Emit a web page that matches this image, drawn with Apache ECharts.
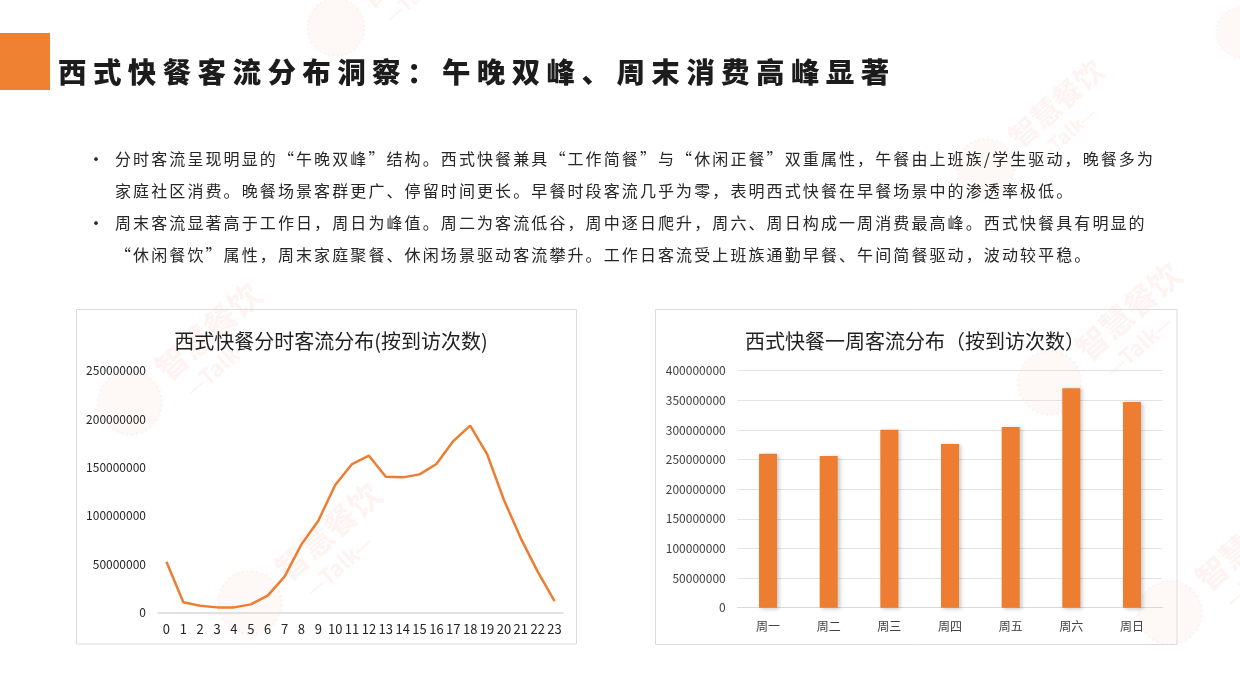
<!DOCTYPE html>
<html>
<head>
<meta charset="utf-8">
<script src="https://cdn.jsdelivr.net/npm/echarts@6/dist/echarts.min.js"></script>
<style>
  html, body { margin: 0; padding: 0; background: #fff; }
  #wrap { position: relative; width: 1240px; height: 697px; overflow: hidden; background: #fff; }
  #chart { position: absolute; left: 0; top: 0; width: 1240px; height: 697px; }
  .txt { position: absolute; font-family: "Noto Sans CJK SC", "Noto Sans", sans-serif; color: #262626; white-space: nowrap; }
  #title { left: 58px; top: 50px; font-size: 28.5px; line-height: 42px; font-weight: 900; letter-spacing: 6.4px; color: #1c1c1c; }
  .line { font-size: 16px; line-height: 32px; letter-spacing: 2.1px; left: 115px; }
  .dot { font-size: 18px; line-height: 32px; left: 87px; }
</style>
</head>
<body>
<div id="wrap">
  <div id="chart"></div>
  <div id="title" class="txt">西式快餐客流分布洞察：午晚双峰、周末消费高峰显著</div>
  <div class="txt dot" style="top:142px">•</div>
  <div class="txt line" style="top:142px">分时客流呈现明显的“午晚双峰”结构。西式快餐兼具“工作简餐”与“休闲正餐”双重属性，午餐由上班族/学生驱动，晚餐多为</div>
  <div class="txt line" style="top:174px">家庭社区消费。晚餐场景客群更广、停留时间更长。早餐时段客流几乎为零，表明西式快餐在早餐场景中的渗透率极低。</div>
  <div class="txt dot" style="top:206px">•</div>
  <div class="txt line" style="top:206px">周末客流显著高于工作日，周日为峰值。周二为客流低谷，周中逐日爬升，周六、周日构成一周消费最高峰。西式快餐具有明显的</div>
  <div class="txt line" style="top:238px">“休闲餐饮”属性，周末家庭聚餐、休闲场景驱动客流攀升。工作日客流受上班族通勤早餐、午间简餐驱动，波动较平稳。</div>
</div>
<script>
// ---- data ----
const hourCategories = ['0','1','2','3','4','5','6','7','8','9','10','11','12','13','14','15','16','17','18','19','20','21','22','23'];
const hourlyVisits = [52700000, 10700000, 7200000, 5500000, 5500000, 8600000, 17600000, 37200000, 70600000, 95000000, 131900000, 153600000, 162200000, 140500000, 139800000, 142900000, 153600000, 177300000, 193200000, 163900000, 116400000, 76800000, 42400000, 12000000];
const weekCategories = ['周一','周二','周三','周四','周五','周六','周日'];
const weeklyVisits = [260000000, 256000000, 300400000, 276200000, 305000000, 370200000, 347100000];
const hourChartTitle = '西式快餐分时客流分布(按到访次数)';
const weekChartTitle = '西式快餐一周客流分布（按到访次数）';

const ORANGE = '#ED7D31';
const FONT = '"Noto Sans CJK SC", "Noto Sans", sans-serif';
const chart = echarts.init(document.getElementById('chart'), null, { renderer: 'canvas' });

function stamp(x, y, s) {
  const c = 'rgba(232,96,64,0.07)';
  return {
    type: 'group', x: x, y: y, rotation: 0.72, scaleX: s, scaleY: s, silent: true, z: 100,
    children: [
      { type: 'circle', shape: { cx: -80, cy: 0, r: 32 }, style: { fill: 'rgba(232,96,64,0.045)', stroke: 'rgba(232,96,64,0.05)', lineWidth: 3, lineDash: [2, 3] } },
      { type: 'text', x: -38, y: -18, style: { text: '智慧餐饮', font: 'bold 32px ' + FONT, fill: c } },
      { type: 'text', x: -30, y: 20, style: { text: '—Talk—', font: 'bold 22px ' + FONT, fill: c } }
    ]
  };
}

const plainNum = v => String(v);

const option = {
  animation: false,
  backgroundColor: 'transparent',
  textStyle: { fontFamily: FONT },
  title: [
    { text: hourChartTitle, left: 326, top: 326, textAlign: 'center',
      textStyle: { fontSize: 20, fontWeight: 'normal', color: '#1f1f1f', fontFamily: FONT } },
    { text: weekChartTitle, left: 910, top: 326, textAlign: 'center',
      textStyle: { fontSize: 20, fontWeight: 'normal', color: '#1f1f1f', fontFamily: FONT } }
  ],
  graphic: [
    { type: 'rect', shape: { x: 0, y: 33, width: 50, height: 57 }, style: { fill: '#EE8232' }, z: 1 },
    { type: 'rect', shape: { x: 76.5, y: 309.5, width: 500, height: 334.5 }, style: { fill: 'none', stroke: '#dcdcdc', lineWidth: 1 }, z: 1 },
    { type: 'rect', shape: { x: 655.5, y: 309.5, width: 521.5, height: 335 }, style: { fill: 'none', stroke: '#dcdcdc', lineWidth: 1 }, z: 1 },
    stamp(390, -20, 0.9),
    stamp(190, 350, 1.0),
    stamp(310, 550, 1.0),
    stamp(1110, 330, 1.0),
    stamp(1230, 560, 1.0),
    stamp(1040, 120, 0.9),
    stamp(1290, -10, 0.8)
  ],
  grid: [
    { left: 158, top: 370.7, width: 405, height: 242 },
    { left: 737.7, top: 370.7, width: 424.6, height: 237 }
  ],
  xAxis: [
    { type: 'category', gridIndex: 0, data: hourCategories, boundaryGap: true,
      axisLine: { lineStyle: { color: '#d9d9d9', width: 1.5 } }, axisTick: { show: false },
      axisLabel: { interval: 0, fontSize: 13, color: '#262626', margin: 10, fontFamily: FONT } },
    { type: 'category', gridIndex: 1, data: weekCategories, boundaryGap: true,
      axisLine: { lineStyle: { color: '#d9d9d9', width: 1 } }, axisTick: { show: false },
      axisLabel: { interval: 0, fontSize: 12, color: '#404040', margin: 13, fontFamily: FONT } }
  ],
  yAxis: [
    { type: 'value', gridIndex: 0, min: 0, max: 250000000, interval: 50000000,
      axisLine: { show: false }, axisTick: { show: false }, splitLine: { show: false },
      axisLabel: { fontSize: 12, color: '#262626', margin: 12, fontFamily: FONT, formatter: plainNum } },
    { type: 'value', gridIndex: 1, min: 0, max: 400000000, interval: 50000000,
      axisLine: { show: false }, axisTick: { show: false },
      splitLine: { lineStyle: { color: '#e3e3e3', width: 1 } },
      axisLabel: { fontSize: 12, color: '#404040', margin: 12, fontFamily: FONT, formatter: plainNum } }
  ],
  series: [
    { type: 'line', xAxisIndex: 0, yAxisIndex: 0, data: hourlyVisits, showSymbol: false, symbol: 'none',
      lineStyle: { color: ORANGE, width: 2.5 }, itemStyle: { color: ORANGE }, z: 5 },
    { type: 'bar', xAxisIndex: 1, yAxisIndex: 1, data: weeklyVisits, barWidth: 18,
      itemStyle: { color: ORANGE, shadowColor: 'rgba(0,0,0,0.22)', shadowBlur: 4, shadowOffsetX: 2, shadowOffsetY: 1 }, z: 5 }
  ]
};
chart.setOption(option);
</script>
</body>
</html>
